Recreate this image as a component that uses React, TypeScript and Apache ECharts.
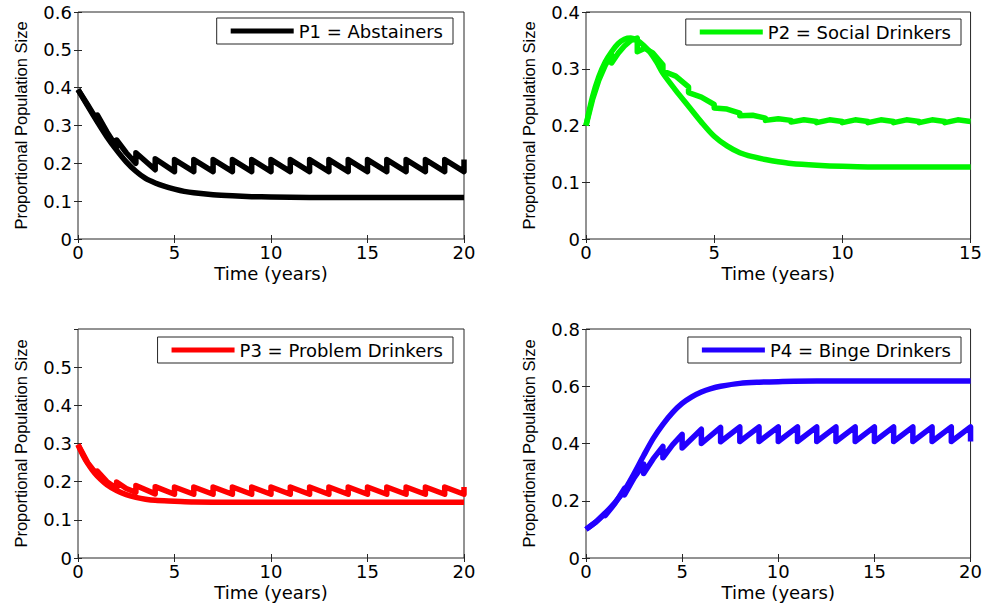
import React, { useEffect, useRef } from "react";
import * as echarts from "echarts";

// ---------- data ----------
const xTicksLabel = "Time (years)";
const yName = "Proportional Population Size";

// P1 = Abstainers
const p1SmoothT = [0, 0.5, 1, 1.5, 2, 2.5, 3, 3.5, 4, 4.5, 5, 5.5, 6, 7, 8, 9, 10, 12, 15, 20];
const p1SmoothV = [0.395, 0.352, 0.31, 0.27, 0.235, 0.204, 0.179, 0.16, 0.148, 0.139, 0.132, 0.126, 0.122, 0.117, 0.114, 0.112, 0.111, 0.11, 0.11, 0.11];
const p1PulseT = [0, 0.5, 1, 1, 1.5, 2, 2, 2.5, 3, 3, 4, 4, 5, 5, 6, 6, 7, 7, 8, 8, 9, 9, 10, 10, 11, 11, 12, 12, 13, 13, 14, 14, 15, 15, 16, 16, 17, 17, 18, 18, 19, 19, 20, 20];
const p1PulseV = [0.395, 0.355, 0.313, 0.328, 0.283, 0.243, 0.262, 0.228, 0.2, 0.228, 0.183, 0.212, 0.178, 0.21, 0.178, 0.21, 0.178, 0.21, 0.178, 0.21, 0.178, 0.21, 0.178, 0.21, 0.178, 0.21, 0.178, 0.21, 0.178, 0.21, 0.178, 0.21, 0.178, 0.21, 0.178, 0.21, 0.178, 0.21, 0.178, 0.21, 0.178, 0.21, 0.178, 0.21];

// P2 = Social Drinkers
const p2SmoothT = [0, 0.25, 0.5, 0.75, 1, 1.25, 1.5, 1.75, 2, 2.25, 2.5, 2.75, 3, 3.5, 4, 4.5, 5, 5.5, 6, 6.5, 7, 7.5, 8, 9, 10, 11, 13, 15];
const p2SmoothV = [0.2, 0.25, 0.286, 0.312, 0.33, 0.344, 0.352, 0.354, 0.35, 0.341, 0.329, 0.312, 0.292, 0.262, 0.234, 0.206, 0.181, 0.164, 0.152, 0.145, 0.14, 0.136, 0.133, 0.13, 0.128, 0.127, 0.127, 0.127];
const p2PulseT = [0, 0.25, 0.5, 0.75, 1, 1, 1.25, 1.5, 1.75, 2, 2, 2.3, 2.6, 3, 3, 3.5, 4, 4, 4.5, 5, 5, 5.5, 6, 6, 6.5, 7, 7, 7.5, 8, 8, 8.5, 9, 9, 9.5, 10, 10, 10.5, 11, 11, 11.5, 12, 12, 12.5, 13, 13, 13.5, 14, 14, 14.5, 15];
const p2PulseV = [0.2, 0.245, 0.28, 0.306, 0.325, 0.31, 0.327, 0.34, 0.35, 0.354, 0.33, 0.336, 0.328, 0.307, 0.296, 0.287, 0.268, 0.258, 0.25, 0.237, 0.231, 0.229, 0.222, 0.217, 0.218, 0.213, 0.209, 0.212, 0.209, 0.206, 0.21, 0.207, 0.205, 0.21, 0.207, 0.205, 0.21, 0.207, 0.205, 0.21, 0.207, 0.205, 0.21, 0.207, 0.205, 0.21, 0.207, 0.205, 0.21, 0.207];

// P3 = Problem Drinkers
const p3SmoothT = [0, 0.25, 0.5, 0.75, 1, 1.5, 2, 2.5, 3, 3.5, 4, 5, 6, 8, 10, 20];
const p3SmoothV = [0.297, 0.27, 0.248, 0.23, 0.215, 0.192, 0.177, 0.166, 0.159, 0.154, 0.151, 0.149, 0.147, 0.146, 0.146, 0.146];
const p3PulseT = [0, 0.5, 1, 1, 1.5, 2, 2, 2.5, 3, 3, 4, 4, 5, 5, 6, 6, 7, 7, 8, 8, 9, 9, 10, 10, 11, 11, 12, 12, 13, 13, 14, 14, 15, 15, 16, 16, 17, 17, 18, 18, 19, 19, 20, 20];
const p3PulseV = [0.297, 0.25, 0.217, 0.228, 0.2, 0.182, 0.199, 0.182, 0.172, 0.19, 0.168, 0.187, 0.167, 0.186, 0.167, 0.186, 0.167, 0.186, 0.167, 0.186, 0.167, 0.186, 0.167, 0.186, 0.167, 0.186, 0.167, 0.186, 0.167, 0.186, 0.167, 0.186, 0.167, 0.186, 0.167, 0.186, 0.167, 0.186, 0.167, 0.186, 0.167, 0.186, 0.167, 0.186];

// P4 = Binge Drinkers
const p4SmoothT = [0, 0.5, 1, 1.5, 2, 2.5, 3, 3.5, 4, 4.5, 5, 5.5, 6, 6.5, 7, 8, 9, 10, 12, 20];
const p4SmoothV = [0.1, 0.125, 0.157, 0.193, 0.237, 0.295, 0.358, 0.418, 0.467, 0.508, 0.54, 0.563, 0.58, 0.592, 0.6, 0.61, 0.614, 0.616, 0.618, 0.618];
const p4PulseT = [0, 0.5, 1, 1, 1.5, 2, 2, 2.5, 3, 3, 3.5, 4, 4, 4.5, 5, 5, 6, 6, 7, 7, 8, 8, 9, 9, 10, 10, 11, 11, 12, 12, 13, 13, 14, 14, 15, 15, 16, 16, 17, 17, 18, 18, 19, 19, 20, 20];
const p4PulseV = [0.1, 0.125, 0.157, 0.148, 0.19, 0.243, 0.22, 0.28, 0.328, 0.295, 0.347, 0.39, 0.35, 0.395, 0.432, 0.384, 0.45, 0.4, 0.456, 0.406, 0.458, 0.407, 0.458, 0.407, 0.458, 0.407, 0.458, 0.407, 0.458, 0.407, 0.458, 0.407, 0.458, 0.407, 0.458, 0.407, 0.458, 0.407, 0.458, 0.407, 0.458, 0.407, 0.458, 0.407, 0.458, 0.407];

const legendNames = ["P1 = Abstainers", "P2 = Social Drinkers", "P3 = Problem Drinkers", "P4 = Binge Drinkers"];
const colors = ["#000000", "#00f500", "#ff0000", "#2200ff"];
const xMaxes = [20, 15, 20, 20];
const yMaxes = [0.6, 0.4, 0.6, 0.8];
const yIntervals = [0.1, 0.1, 0.1, 0.2];
const xInterval = 5;

// ---------- layout ----------
const FONT = "'DejaVu Sans', sans-serif";
const AX = "#262626";
const grids = [
  { left: 78, top: 12, width: 386, height: 227 },
  { left: 586, top: 12, width: 386, height: 227 },
  { left: 78, top: 329, width: 386, height: 229 },
  { left: 586, top: 329, width: 386, height: 229 },
];
const legendPos = [
  { right: 532, top: 18 },
  { right: 24, top: 19 },
  { right: 532, top: 337 },
  { right: 24, top: 337 },
];

const pairs = (t: number[], v: number[]) => t.map((x, k) => [x, v[k]]);
const smoothData = [
  pairs(p1SmoothT, p1SmoothV),
  pairs(p2SmoothT, p2SmoothV),
  pairs(p3SmoothT, p3SmoothV),
  pairs(p4SmoothT, p4SmoothV),
];
const pulseData = [
  pairs(p1PulseT, p1PulseV),
  pairs(p2PulseT, p2PulseV),
  pairs(p3PulseT, p3PulseV),
  pairs(p4PulseT, p4PulseV),
];

function buildOption() {
  const grid: any[] = [];
  const xAxis: any[] = [];
  const yAxis: any[] = [];
  const series: any[] = [];
  const legend: any[] = [];
  const tick = { show: true, inside: true, length: 4, lineStyle: { color: AX, width: 1 } };
  for (let i = 0; i < 4; i++) {
    grid.push({ ...grids[i], show: true, borderColor: AX, borderWidth: 1, backgroundColor: "#fff" });
    xAxis.push({
      type: "value", gridIndex: i, min: 0, max: xMaxes[i], interval: xInterval, position: "bottom",
      axisLine: { show: false }, axisTick: tick, splitLine: { show: false },
      axisLabel: { margin: 4, fontSize: 18, fontFamily: FONT, color: "#000" },
      name: xTicksLabel, nameLocation: "middle", nameGap: 25,
      nameTextStyle: { fontSize: 18, fontFamily: FONT, color: "#000" },
    });
    xAxis.push({
      type: "value", gridIndex: i, min: 0, max: xMaxes[i], interval: xInterval, position: "top",
      axisLine: { show: false }, axisTick: tick, splitLine: { show: false }, axisLabel: { show: false },
    });
    yAxis.push({
      type: "value", gridIndex: i, min: 0, max: yMaxes[i], interval: yIntervals[i], position: "left",
      axisLine: { show: false }, axisTick: tick, splitLine: { show: false },
      axisLabel: { margin: 6, fontSize: 18, fontFamily: FONT, color: "#000", showMaxLabel: i !== 2 },
      name: yName, nameLocation: "middle", nameGap: 49, nameRotate: 90,
      nameTextStyle: { fontSize: 16.5, fontFamily: "'Liberation Sans', Arial, sans-serif", color: "#000" },
    });
    yAxis.push({
      type: "value", gridIndex: i, min: 0, max: yMaxes[i], interval: yIntervals[i], position: "right",
      axisLine: { show: false }, axisTick: tick, splitLine: { show: false }, axisLabel: { show: false },
    });
    const common = {
      type: "line", xAxisIndex: 2 * i, yAxisIndex: 2 * i, symbol: "none", showSymbol: false, silent: true,
      itemStyle: { color: colors[i] },
    };
    series.push({
      ...common, name: legendNames[i], data: smoothData[i], smooth: 0.3,
      lineStyle: { color: colors[i], width: 5.5, join: "round" },
    });
    series.push({
      ...common, name: legendNames[i] + " (impulsive)", data: pulseData[i],
      lineStyle: { color: colors[i], width: 5.5, join: "round" },
    });
    legend.push({
      ...legendPos[i], data: [legendNames[i]], icon: "rect", itemWidth: 63, itemHeight: 5,
      selectedMode: false, borderColor: AX, borderWidth: 1, padding: [4, 10, 4, 14],
      backgroundColor: "#fff",
      textStyle: { fontSize: 18, fontFamily: FONT, color: "#000" },
    });
  }
  return { animation: false, backgroundColor: "#fff", grid, xAxis, yAxis, series, legend };
}

export default function App() {
  const ref = useRef<HTMLDivElement>(null);
  useEffect(() => {
    document.body.style.margin = "0";
    const chart = echarts.init(ref.current!, null, { renderer: "svg" });
    chart.setOption(buildOption() as any);
    return () => chart.dispose();
  }, []);
  return (
    <div
      ref={ref}
      style={{ position: "absolute", left: 0, top: 0, width: 985, height: 606, background: "#fff" }}
    />
  );
}
